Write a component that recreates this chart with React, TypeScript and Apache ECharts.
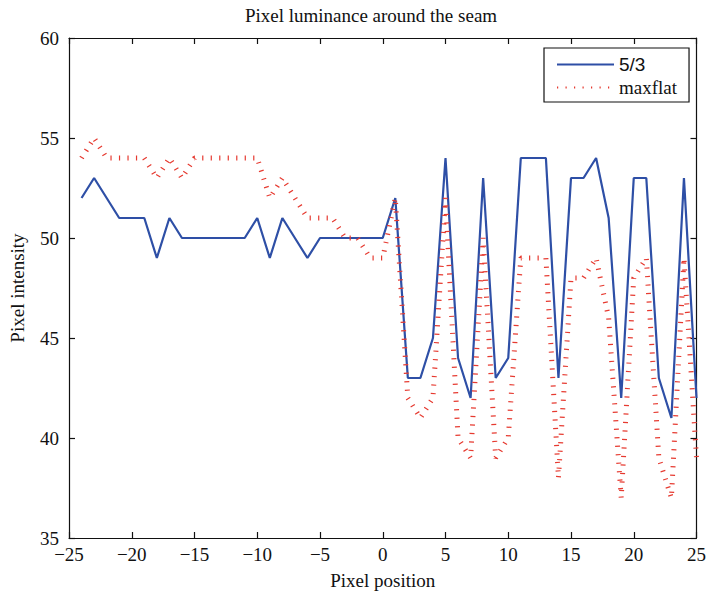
import React, { useEffect, useRef } from "react";
import * as echarts from "echarts";

const positions = [
  -24, -23, -22, -21, -20, -19, -18, -17, -16, -15, -14, -13, -12, -11, -10, -9, -8, -7, -6, -5, -4, -3, -2, -1, 0,
  1, 2, 3, 4, 5, 6, 7, 8, 9, 10, 11, 12, 13, 14, 15, 16, 17, 18, 19, 20, 21, 22, 23, 24, 25,
];
const series53 = [
  52, 53, 52, 51, 51, 51, 49, 51, 50, 50, 50, 50, 50, 50, 51, 49, 51, 50, 49, 50, 50, 50, 50, 50, 50,
  52, 43, 43, 45, 54, 44, 42, 53, 43, 44, 54, 54, 54, 43, 53, 53, 54, 51, 42, 53, 53, 43, 41, 53, 42,
];
const seriesMaxflat = [
  54, 55, 54, 54, 54, 54, 53, 54, 53, 54, 54, 54, 54, 54, 54, 52, 53, 52, 51, 51, 51, 50, 50, 49, 49,
  52, 42, 41, 42, 52, 40, 39, 50, 39, 40, 49, 49, 49, 38, 48, 48, 49, 46, 37, 48, 49, 39, 37, 49, 39,
];
const seriesNames = ["5/3", "maxflat"];
const titleText = "Pixel luminance around the seam";
const xName = "Pixel position";
const yName = "Pixel intensity";

const SERIF = "'Liberation Serif', 'Times New Roman', serif";
const SANS = "'Liberation Sans', Arial, sans-serif";

const fmtX = (v: number) => (v < 0 ? "\u2212" + Math.abs(v) : String(v));

export default function App() {
  const ref = useRef<HTMLDivElement>(null);
  useEffect(() => {
    if (!ref.current) return;
    const chart = echarts.init(ref.current, undefined, { renderer: "svg" });
    const axisLine = { show: true, onZero: false, lineStyle: { color: "#111", width: 1.2 } };
    const axisTick = { show: true, inside: true, length: 6, lineStyle: { color: "#111", width: 1.2 } };
    chart.setOption({
      animation: false,
      backgroundColor: "#ffffff",
      title: {
        text: titleText,
        left: 366,
        textAlign: "center",
        top: 1,
        textStyle: { fontFamily: SERIF, fontSize: 19, fontWeight: "normal", color: "#111" },
      },
      grid: { left: 62, right: 10, top: 38, bottom: 52, containLabel: false },
      legend: {
        left: 544,
        top: 48,
        orient: "vertical",
        padding: [7, 12, 5, 12],
        itemWidth: 57,
        itemHeight: 14,
        itemGap: 4,
        borderColor: "#111",
        borderWidth: 1.2,
        backgroundColor: "#fff",
        itemStyle: { opacity: 0 },
        data: [
          { name: seriesNames[0], textStyle: { fontFamily: SANS, fontSize: 19, color: "#111" } },
          { name: seriesNames[1], textStyle: { fontFamily: SERIF, fontSize: 19, color: "#111" } },
        ],
      },
      xAxis: [
        {
          type: "value",
          min: -25,
          max: 25,
          interval: 5,
          name: xName,
          nameLocation: "middle",
          nameGap: 33,
          nameTextStyle: { fontFamily: SERIF, fontSize: 19, color: "#111" },
          axisLine,
          axisTick,
          splitLine: { show: false },
          axisLabel: { fontFamily: SERIF, fontSize: 19, color: "#111", margin: 7, formatter: fmtX },
        },
        {
          type: "value",
          position: "top",
          min: -25,
          max: 25,
          interval: 5,
          axisLine,
          axisTick,
          splitLine: { show: false },
          axisLabel: { show: false },
        },
      ],
      yAxis: [
        {
          type: "value",
          min: 35,
          max: 60,
          interval: 5,
          name: yName,
          nameLocation: "middle",
          nameGap: 42,
          nameTextStyle: { fontFamily: SERIF, fontSize: 19, color: "#111" },
          axisLine,
          axisTick,
          splitLine: { show: false },
          axisLabel: { fontFamily: SERIF, fontSize: 19, color: "#111", margin: 10 },
        },
        {
          type: "value",
          position: "right",
          min: 35,
          max: 60,
          interval: 5,
          axisLine,
          axisTick,
          splitLine: { show: false },
          axisLabel: { show: false },
        },
      ],
      series: [
        {
          name: seriesNames[0],
          type: "line",
          data: positions.map((x, i) => [x, series53[i]]),
          showSymbol: false,
          symbol: "none",
          lineStyle: { color: "#2e4fa6", width: 2.2 },
          itemStyle: { color: "#2e4fa6" },
        },
        {
          name: seriesNames[1],
          type: "line",
          data: positions.map((x, i) => [x, seriesMaxflat[i]]),
          showSymbol: false,
          symbol: "none",
          lineStyle: { color: "#e63a30", width: 5, type: [1.2, 7.3], cap: "butt" },
          itemStyle: { color: "#e63a30" },
        },
      ],
    });
    return () => chart.dispose();
  }, []);
  return <div ref={ref} style={{ position: "fixed", left: 0, top: 0, width: 709, height: 595 }} />;
}
